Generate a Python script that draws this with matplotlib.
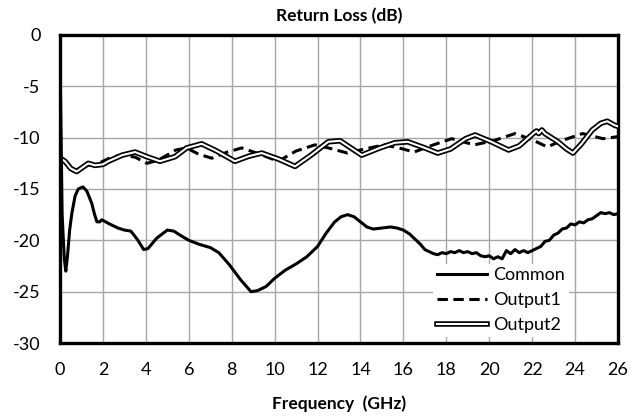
import matplotlib
matplotlib.use("Agg")
import matplotlib.pyplot as plt
import matplotlib.patheffects as pe

plt.rcParams['font.family'] = ['Lato', 'DejaVu Sans']
plt.rcParams['axes.unicode_minus'] = False

# Common port return loss
freq_common = [0, 0.1, 0.2, 0.27, 0.35, 0.45, 0.55, 0.7, 0.85, 1.07, 1.25, 1.48, 1.6, 1.72,
               1.85, 1.95, 2.3, 2.7, 3.0, 3.3, 3.6, 3.9, 4.1, 4.5, 5.0, 5.3, 5.6, 6.0, 6.5,
               7.0, 7.4, 7.9, 8.4, 8.9, 9.2, 9.6, 10.0, 10.5, 11.0, 11.5, 12.0, 12.4, 12.8,
               13.1, 13.4, 13.7, 14.0, 14.3, 14.6, 15.0, 15.4, 15.7, 16.0, 16.3, 16.6,
               16.8, 17.0, 17.2, 17.4, 17.6, 17.8, 18.0, 18.2, 18.4, 18.6, 18.8, 19.0,
               19.2, 19.4, 19.6, 19.8, 20.0, 20.2, 20.4, 20.6, 20.8, 21.0, 21.2, 21.4,
               21.6, 21.8, 22.0, 22.2, 22.4, 22.6, 22.8, 23.0, 23.2, 23.4, 23.6, 23.8,
               24.0, 24.2, 24.4, 24.6, 24.8, 25.0, 25.2, 25.4, 25.6, 25.8, 26.0]
rl_common = [-2.0, -17.5, -21.8, -23.0, -21.5, -19.0, -17.4, -15.7, -15.0, -14.8, -15.2, -16.4,
             -17.4, -18.2, -18.2, -18.0, -18.4, -18.8, -19.0, -19.1, -19.9, -20.9, -20.8,
             -19.8, -19.0, -19.1, -19.5, -20.0, -20.4, -20.7, -21.2, -22.4, -23.8, -25.0,
             -24.9, -24.5, -23.7, -22.9, -22.3, -21.6, -20.6, -19.3, -18.2, -17.7, -17.5,
             -17.7, -18.2, -18.7, -18.9, -18.8, -18.7, -18.8, -19.0, -19.4, -20.0,
             -20.4, -20.9, -21.1, -21.3, -21.4, -21.2, -21.3, -21.1, -21.2, -21.0, -21.2,
             -21.1, -21.3, -21.2, -21.5, -21.6, -21.5, -21.8, -21.6, -21.8, -21.0, -21.3,
             -20.9, -21.2, -21.0, -21.2, -21.0, -20.8, -20.6, -20.1, -20.0, -19.5, -19.3,
             -18.9, -18.8, -18.4, -18.5, -18.2, -18.3, -18.0, -17.9, -17.6, -17.3, -17.4,
             -17.3, -17.5, -17.4]

# Output1 return loss
freq_out1 = [0, 0.15, 0.4, 0.65, 0.9, 1.3, 1.9, 2.4, 2.9, 3.5, 4.05, 4.4, 4.74, 5.4, 5.9,
             6.45, 7.07, 7.8, 8.47, 9.3, 10.17, 11.0, 11.88, 12.5, 13.4, 14.2, 15.1, 15.8,
             16.5, 17.4, 18.25, 19.3, 20.2, 21.2, 22.0, 22.7, 23.5, 24.35, 25.3, 26.0]
rl_out1 = [-12.0, -12.2, -12.9, -13.3, -13.0, -12.7, -12.4, -11.9, -11.7, -11.9, -12.5,
           -12.3, -12.0, -11.2, -11.0, -11.6, -12.0, -11.4, -11.0, -11.6, -12.3, -11.3,
           -10.7, -11.0, -11.5, -11.1, -10.7, -11.0, -11.4, -10.7, -10.1, -10.7, -10.3,
           -9.6, -10.2, -10.9, -10.2, -9.6, -10.1, -9.9]

# Output2 return loss
freq_out2 = [0, 0.23, 0.5, 0.78, 1.05, 1.32, 1.63, 2.0, 2.25, 2.9, 3.5, 4.04, 4.66, 5.36,
             5.9, 6.6, 7.3, 8.15, 8.8, 9.4, 10.2, 10.95, 11.7, 12.5, 13.05, 14.06, 14.9,
             15.6, 16.2, 17.0, 17.6, 18.2, 18.9, 19.34, 20.1, 20.9, 21.4, 21.8, 22.05,
             22.2, 22.3, 22.45, 22.6, 23.2, 23.6, 23.9, 24.3, 24.8, 25.2, 25.5, 25.85, 26.0]
rl_out2 = [-12.0, -12.3, -13.0, -13.3, -12.9, -12.5, -12.7, -12.6, -12.3, -11.7, -11.4,
           -11.85, -12.3, -11.85, -11.0, -10.6, -11.3, -12.3, -11.8, -11.5, -12.1, -12.8,
           -11.7, -10.4, -10.3, -11.7, -11.0, -10.5, -10.4, -11.0, -11.5, -11.1, -10.1,
           -9.74, -10.4, -11.2, -10.8, -10.06, -9.6, -9.35, -9.6, -9.25, -9.6, -10.4,
           -11.1, -11.5, -10.6, -9.25, -8.6, -8.4, -8.8, -8.9]

fig = plt.figure(figsize=(6.42, 4.16), dpi=100)
ax = fig.add_axes([60/642, 1-343/416, 558/642, 308/416])

ax.plot(freq_common, rl_common, color='black', lw=2.2, label='Common', zorder=6)
ax.plot(freq_out1, rl_out1, color='black', lw=2.2, ls=(0, (3.4, 1.8)), label='Output1', zorder=3)
ax.plot(freq_out2, rl_out2, color='white', lw=1.5, label='Output2', zorder=3,
        path_effects=[pe.Stroke(linewidth=4.0, foreground='black'), pe.Normal()])

ax.set_xlim(0, 26)
ax.set_ylim(-30, 0)
ax.set_xticks(range(0, 27, 2))
ax.set_yticks(range(-30, 1, 5))
ax.grid(True, color='#a6a6a6', lw=1.0)
ax.set_axisbelow(True)
ax.tick_params(length=0, labelsize=13, pad=14)
for s in ax.spines.values():
    s.set_linewidth(2.4)
    s.set_color('black')

ax.set_title('Return Loss (dB)', fontsize=12.5, fontweight='bold', pad=10)
ax.set_xlabel('Frequency  (GHz)', fontsize=12.5, fontweight='bold', labelpad=12)

leg = ax.legend(loc='lower right', bbox_to_anchor=(0.912, 0.02), borderaxespad=0,
                fontsize=13, frameon=True, fancybox=False, edgecolor='none',
                facecolor='white', framealpha=1, handlelength=2.8, handletextpad=0.35,
                labelspacing=0.5, borderpad=0.2)

fig.savefig('out.png', dpi=100)
